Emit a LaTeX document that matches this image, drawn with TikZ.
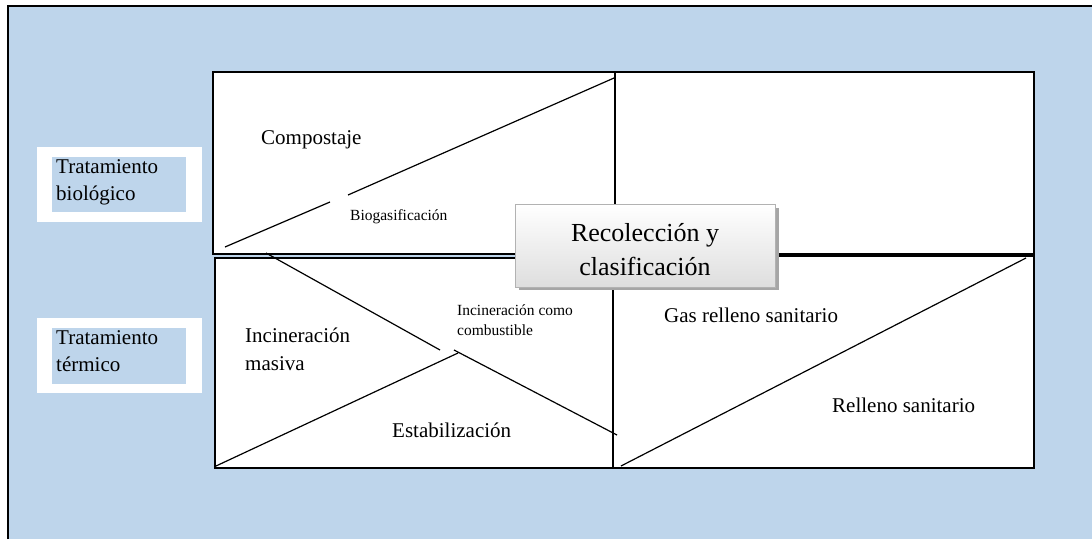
\documentclass[tikz,border=0pt]{standalone}
\usepackage{fontspec}
\setmainfont{Liberation Serif}
\definecolor{bgblue}{RGB}{190,213,235}
\definecolor{boxgray}{RGB}{222,222,222}
\tikzset{
  cell/.style={draw=black, fill=white, line width=1.3pt},
  diag/.style={draw=black, line width=1.2pt},
  lbl/.style={font=\fontsize{21}{28}\selectfont, anchor=west, inner sep=0pt, align=left},
  small/.style={font=\fontsize{15.5}{20}\selectfont, anchor=west, inner sep=0pt, align=left},
  side/.style={font=\fontsize{21}{27}\selectfont, anchor=north west, inner sep=0pt, align=left}
}
\begin{document}
\begin{tikzpicture}[x=1pt, y=-1pt]
\useasboundingbox (0,0) rectangle (1092,539);
% background
\fill[bgblue] (8,6) rectangle (1092,539);
\draw[line width=2pt] (8,539) -- (8,6) -- (1092,6);
% side labels
\fill[white] (37,147) rectangle (202,222);
\fill[bgblue] (52,157) rectangle (186,212);
\node[side] (tb) at (56,159) {Tratamiento\\biológico};
\fill[white] (37,318) rectangle (202,393);
\fill[bgblue] (52,328) rectangle (186,384);
\node[side] (tt) at (56,330) {Tratamiento\\térmico};
% cells
\draw[cell] (213,72) rectangle (615,254);
\draw[cell] (615,72) rectangle (1034,254);
\draw[cell] (215,258) rectangle (613,468);
\draw[cell] (613,256) rectangle (1034,468);
\draw[line width=2.2pt] (615,72) -- (615,254);
% diagonals top-left
\coordinate (d1a) at (225,247);
\coordinate (d1b) at (330,202);
\coordinate (d1c) at (348,195);
\coordinate (d1d) at (614,78);
\draw[diag] (d1a) -- (d1b);
\draw[diag] (d1c) -- (d1d);
% bottom-left diagonals
\coordinate (d2a) at (266,253);
\coordinate (d2b) at (440,350);
\coordinate (d2c) at (454,350);
\coordinate (d2d) at (617,435);
\draw[diag] (d2a) -- (d2b);
\draw[diag] (d2c) -- (d2d);
\coordinate (d3a) at (216,466);
\coordinate (d3b) at (458,353);
\draw[diag] (d3a) -- (d3b);
% bottom-right diagonal
\coordinate (d4a) at (621,466);
\coordinate (d4b) at (1026,258);
\draw[diag] (d4a) -- (d4b);
% texts
\node[lbl] (comp) at (261,140) {Compostaje};
\node[small] (bio) at (350,217) {Biogasificación};
\node[small] (icc) at (457,320) {Incineración como\\combustible};
\node[lbl] (im) at (245,349) {Incineración\\masiva};
\node[lbl] (est) at (392,430) {Estabilización};
\node[lbl] (gas) at (664,315) {Gas relleno sanitario};
\node[lbl] (rel) at (832,405) {Relleno sanitario};
% center box
\fill[gray!70] (519,208) rectangle (779,290);
\shade[top color=white, bottom color=boxgray, draw=gray!60, line width=0.8pt] (515,204) rectangle (775,287);
\node[font=\fontsize{26}{34}\selectfont, align=center, inner sep=0pt] (rc) at (645,250) {Recolección y\\clasificación};
\end{tikzpicture}
\end{document}
